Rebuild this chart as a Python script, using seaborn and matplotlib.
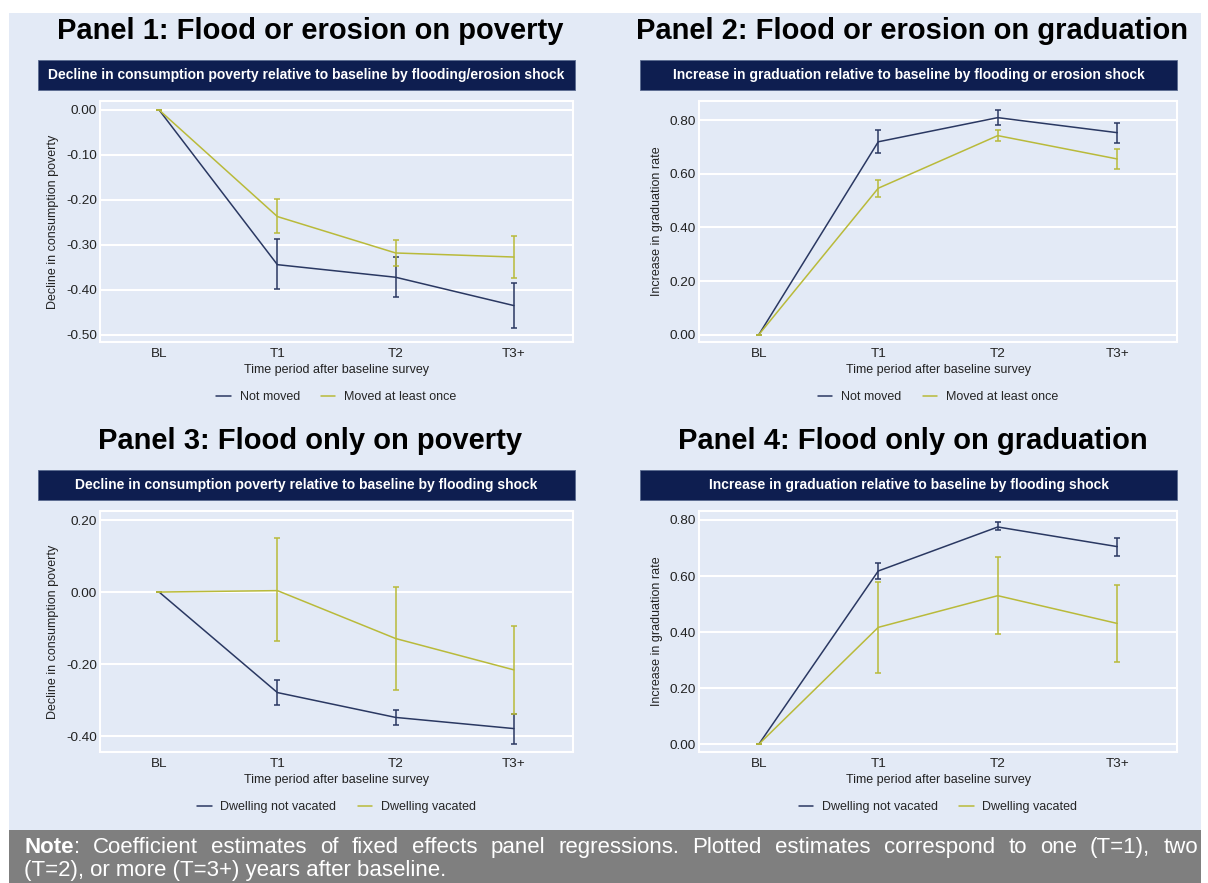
import numpy as np
import pandas as pd
import matplotlib.pyplot as plt
import seaborn as sns
from matplotlib.patches import Rectangle
from matplotlib.ticker import FormatStrFormatter

# light-blue Stata-like look
sns.set_style("whitegrid", {
    "axes.facecolor": "#E3EAF6",
    "axes.edgecolor": "white",
    "grid.color": "white",
})
plt.rcParams['font.family'] = ['Liberation Sans', 'DejaVu Sans']
plt.rcParams['axes.unicode_minus'] = False

#%% Data
periods = ['BL', 'T1', 'T2', 'T3+']

# Panel 1: flood or erosion on poverty
p1_notmoved = [0, -0.344, -0.372, -0.435]
p1_notmoved_lo = [0, -0.398, -0.415, -0.485]
p1_notmoved_hi = [0, -0.287, -0.327, -0.385]
p1_moved = [0, -0.237, -0.318, -0.327]
p1_moved_lo = [0, -0.274, -0.346, -0.373]
p1_moved_hi = [0, -0.198, -0.290, -0.281]

# Panel 2: flood or erosion on graduation
p2_notmoved = [0, 0.719, 0.809, 0.753]
p2_notmoved_lo = [0, 0.678, 0.783, 0.716]
p2_notmoved_hi = [0, 0.764, 0.837, 0.790]
p2_moved = [0, 0.546, 0.742, 0.655]
p2_moved_lo = [0, 0.515, 0.722, 0.619]
p2_moved_hi = [0, 0.576, 0.763, 0.692]

# Panel 3: flood only on poverty
p3_notvac = [0, -0.279, -0.348, -0.379]
p3_notvac_lo = [0, -0.314, -0.369, -0.421]
p3_notvac_hi = [0, -0.244, -0.327, -0.339]
p3_vac = [0, 0.004, -0.129, -0.216]
p3_vac_lo = [0, -0.135, -0.272, -0.338]
p3_vac_hi = [0, 0.149, 0.014, -0.095]

# Panel 4: flood only on graduation
p4_notvac = [0, 0.618, 0.775, 0.705]
p4_notvac_lo = [0, 0.589, 0.763, 0.671]
p4_notvac_hi = [0, 0.645, 0.792, 0.735]
p4_vac = [0, 0.417, 0.530, 0.431]
p4_vac_lo = [0, 0.256, 0.394, 0.293]
p4_vac_hi = [0, 0.580, 0.667, 0.567]

moved_labels = ['Not moved', 'Moved at least once']
vacated_labels = ['Dwelling not vacated', 'Dwelling vacated']

poverty_ticks_1 = [-0.5, -0.4, -0.3, -0.2, -0.1, 0.0]
poverty_ticks_3 = [-0.4, -0.2, 0.0, 0.2]
grad_ticks = [0.0, 0.2, 0.4, 0.6, 0.8]

note_line1 = ('Coefficient estimates of fixed effects panel regressions. '
              'Plotted estimates correspond to one (T=1), two')
note_line2 = '(T=2), or more (T=3+) years after baseline.'

NAVY = '#2A3862'
OLIVE = '#B9BA3A'
BANNER = '#0E1E50'
BG = '#E3EAF6'

#%% Figure layout (pixel boxes)
W, H = 1208, 883
fig = plt.figure(figsize=(W / 100, H / 100), dpi=100, facecolor='white')


def box(x0, y0, x1, y1):
    return [x0 / W, 1 - y1 / H, (x1 - x0) / W, (y1 - y0) / H]


fig.add_artist(Rectangle((9 / W, 1 - 830 / H), 1192 / W, 817 / H,
                         transform=fig.transFigure, facecolor=BG,
                         edgecolor='none', zorder=-10))
fig.add_artist(Rectangle((9 / W, 0), 1192 / W, 53 / H,
                         transform=fig.transFigure, facecolor='#7F7F7F',
                         edgecolor='none', zorder=-10))

panels = [
    dict(title='Panel 1: Flood or erosion on poverty',
         banner='Decline in consumption poverty relative to baseline by flooding/erosion shock',
         ylabel='Decline in consumption poverty', labels=moved_labels,
         series=[(p1_notmoved, p1_notmoved_lo, p1_notmoved_hi),
                 (p1_moved, p1_moved_lo, p1_moved_hi)],
         ylim=(-0.516, 0.02), yticks=poverty_ticks_1,
         ax=(100, 101, 573, 342), band=(38, 60, 575, 90), ylx=-0.086),
    dict(title='Panel 2: Flood or erosion on graduation',
         banner='Increase in graduation relative to baseline by flooding or erosion shock',
         ylabel='Increase in graduation rate', labels=moved_labels,
         series=[(p2_notmoved, p2_notmoved_lo, p2_notmoved_hi),
                 (p2_moved, p2_moved_lo, p2_moved_hi)],
         ylim=(-0.027, 0.871), yticks=grad_ticks,
         ax=(699, 101, 1177, 342), band=(640, 60, 1177, 90), ylx=-0.076),
    dict(title='Panel 3: Flood only on poverty',
         banner='Decline in consumption poverty relative to baseline by flooding shock',
         ylabel='Decline in consumption poverty', labels=vacated_labels,
         series=[(p3_notvac, p3_notvac_lo, p3_notvac_hi),
                 (p3_vac, p3_vac_lo, p3_vac_hi)],
         ylim=(-0.444, 0.225), yticks=poverty_ticks_3,
         ax=(100, 511, 573, 752), band=(38, 470, 575, 500), ylx=-0.086),
    dict(title='Panel 4: Flood only on graduation',
         banner='Increase in graduation relative to baseline by flooding shock',
         ylabel='Increase in graduation rate', labels=vacated_labels,
         series=[(p4_notvac, p4_notvac_lo, p4_notvac_hi),
                 (p4_vac, p4_vac_lo, p4_vac_hi)],
         ylim=(-0.0275, 0.832), yticks=grad_ticks,
         ax=(699, 511, 1177, 752), band=(640, 470, 1177, 500), ylx=-0.076),
]

for p in panels:
    x0, y0, x1, y1 = p['ax']
    ax = fig.add_axes(box(x0, y0, x1, y1))

    # long table for seaborn
    rows = []
    for label, (est, lo, hi) in zip(p['labels'], p['series']):
        for i, per in enumerate(periods):
            rows.append({'pos': i, 'period': per, 'group': label,
                         'est': est[i], 'lo': lo[i], 'hi': hi[i]})
    df = pd.DataFrame(rows)

    sns.lineplot(data=df, x='pos', y='est', hue='group', hue_order=p['labels'],
                 palette=[NAVY, OLIVE], linewidth=1.1, ax=ax)
    for label, color in zip(p['labels'], [NAVY, OLIVE]):
        d = df[df['group'] == label]
        ax.errorbar(d['pos'], d['est'], yerr=[d['est'] - d['lo'], d['hi'] - d['est']],
                    fmt='none', ecolor=color, elinewidth=1.1, capsize=2.3,
                    capthick=1.1, zorder=3)

    ax.set_xlim(-0.5, 3.5)
    ax.set_ylim(*p['ylim'])
    ax.set_xticks(range(len(periods)), periods)
    ax.set_yticks(p['yticks'])
    ax.yaxis.set_major_formatter(FormatStrFormatter('%.2f'))
    ax.grid(axis='x', visible=False)
    ax.grid(axis='y', color='white', linewidth=1.5)
    for s in ax.spines.values():
        s.set_color('white')
        s.set_linewidth(1.5)
    ax.tick_params(axis='both', length=0, labelsize=9.7, colors='#222222')
    ax.tick_params(axis='y', pad=2)
    ax.tick_params(axis='x', pad=4)
    ax.set_xlabel('Time period after baseline survey', fontsize=9,
                  color='#222222', labelpad=3)
    ax.set_ylabel(p['ylabel'], fontsize=9, color='#222222')
    ax.yaxis.set_label_coords(p['ylx'], 0.5)

    sns.move_legend(ax, 'center', bbox_to_anchor=(0.5, -0.228), ncol=2,
                    frameon=False, title=None, fontsize=9, handlelength=1.15,
                    handletextpad=0.7, columnspacing=1.7)

    # panel heading and navy banner
    bx0, by0, bx1, by1 = p['band']
    fig.text(((bx0 + bx1) / 2 + 4) / W, 1 - (by0 - 29) / H, p['title'],
             ha='center', va='center', fontsize=21, fontweight='bold', color='black')
    fig.add_artist(Rectangle((bx0 / W, 1 - by1 / H), (bx1 - bx0) / W, (by1 - by0) / H,
                             transform=fig.transFigure, facecolor=BANNER,
                             edgecolor='#5A6A90', linewidth=0.6))
    fig.text((bx0 + bx1) / 2 / W, 1 - (by0 + by1) / 2 / H, p['banner'],
             ha='center', va='center', fontsize=10, fontweight='bold', color='white')

# note band at the bottom: size the text so line 1 nearly fills x=24..1198,
# then justify the remaining space between the words
renderer = fig.canvas.get_renderer()
left, right = 24, 1198
probe = fig.text(0, 0, 'Note: ' + note_line1, fontsize=15)
natural = probe.get_window_extent(renderer).width
probe.remove()
NOTE_FS = min(16, 15 * (right - left) / natural * 0.985)

base1 = 1 - 853 / H
note_b = fig.text(left / W, base1, 'Note', ha='left', va='baseline',
                  fontsize=NOTE_FS, fontweight='bold', color='white')
colon = fig.text(0, base1, ':', ha='left', va='baseline',
                 fontsize=NOTE_FS, color='white')
bw = note_b.get_window_extent(renderer).width
colon.set_x((left + bw) / W)
first_w = bw + colon.get_window_extent(renderer).width

words = note_line1.split()
word_texts = [fig.text(0, base1, w, ha='left', va='baseline', fontsize=NOTE_FS,
                       color='white') for w in words]
widths = [t.get_window_extent(renderer).width for t in word_texts]
gap = (right - left - first_w - sum(widths)) / len(words)
x = left + first_w + gap
for t, w in zip(word_texts, widths):
    t.set_x(x / W)
    x += w + gap

fig.text(left / W, 1 - 876 / H, note_line2, ha='left', va='baseline',
         fontsize=NOTE_FS, color='white')

fig.savefig('out.png', dpi=100, facecolor='white')
